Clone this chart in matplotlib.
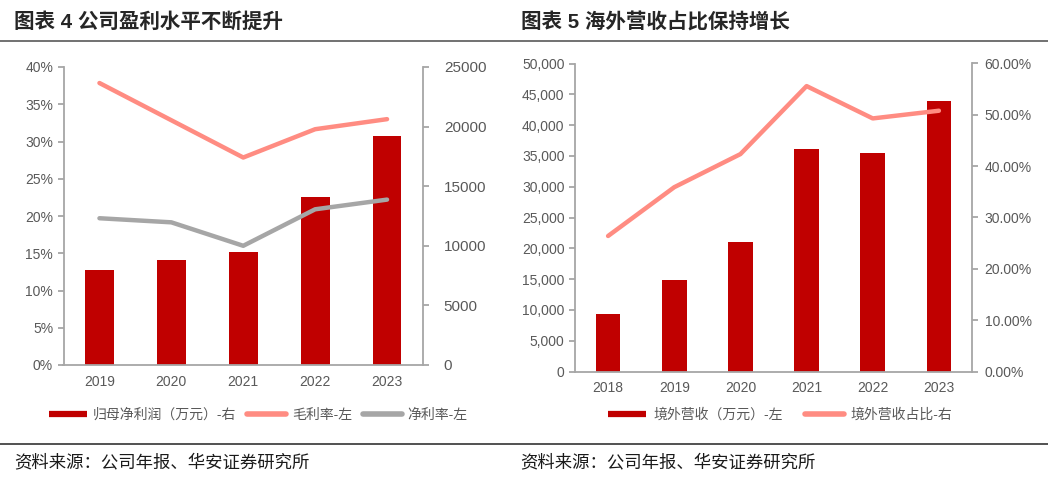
import matplotlib
matplotlib.use('Agg')
import matplotlib.pyplot as plt
from matplotlib.lines import Line2D
from matplotlib.ticker import FuncFormatter, MultipleLocator
import numpy as np

plt.rcParams['font.family'] = ['Liberation Sans', 'Noto Sans CJK SC', 'DejaVu Sans']

# --- chart 4 data ---
years_a = ['2019', '2020', '2021', '2022', '2023']
net_profit = [8000, 8850, 9500, 14080, 19250]        # 万元, right axis
gross_margin = [37.85, 32.85, 27.85, 31.65, 33.0]    # %, left axis
net_margin = [19.7, 19.15, 16.0, 20.9, 22.2]         # %, left axis

# --- chart 5 data ---
years_b = ['2018', '2019', '2020', '2021', '2022', '2023']
overseas_rev = [9300, 14850, 21030, 36100, 35400, 43900]   # 万元, left axis
overseas_share = [26.4, 35.9, 42.35, 55.6, 49.3, 50.8]     # %, right axis

RED = '#C00000'
PINK = '#FF8C82'
GREY = '#A6A6A6'
TXT = '#595959'
AXC = '#A6A6A6'

W, H = 1048, 483
fig = plt.figure(figsize=(W / 100, H / 100), dpi=100)


def box(x0, y0, x1, y1):
    return [x0 / W, 1 - y1 / H, (x1 - x0) / W, (y1 - y0) / H]


def style(ax, n, right=False):
    ax.spines['top'].set_visible(False)
    for s in ['left', 'right', 'bottom']:
        ax.spines[s].set_color(AXC)
        ax.spines[s].set_linewidth(1.3)
    if not right:
        ax.spines['right'].set_visible(False)
    ax.set_xlim(-0.5, n - 0.5)
    ax.set_xticks(np.arange(-0.5, n, 1.0))
    ax.set_xticklabels([])
    ax.tick_params(axis='x', which='major', length=4, color=AXC, width=1.3)
    ax.tick_params(axis='y', length=4, color=AXC, width=1.3, labelcolor=TXT, labelsize=10)


# ================= chart 4 =================
axL = fig.add_axes(box(63.5, 67, 423, 365))
axR = axL.twinx()
x = np.arange(len(years_a))
axR.bar(x, net_profit, width=0.4, color=RED, zorder=2)
axR.set_ylim(0, 25000)
axR.yaxis.set_major_locator(MultipleLocator(5000))
axL.plot(x, gross_margin, color=PINK, lw=3.2, solid_capstyle='round', zorder=3)
axL.plot(x, net_margin, color=GREY, lw=3.2, solid_capstyle='round', zorder=3)
axL.set_ylim(0, 40)
axL.yaxis.set_major_locator(MultipleLocator(5))
axL.yaxis.set_major_formatter(FuncFormatter(lambda v, p: f'{v:.0f}%'))
axL.set_zorder(axR.get_zorder() + 1)
axL.patch.set_visible(False)
style(axL, len(years_a))
style(axR, len(years_a), right=True)
axR.spines['left'].set_visible(False)
axR.spines['bottom'].set_visible(False)
axR.tick_params(axis='y', labelsize=11, pad=11)
axL.set_xticks(x, minor=True)
axL.set_xticklabels(years_a, minor=True)
axL.tick_params(axis='x', which='minor', length=0, labelcolor=TXT, labelsize=10, pad=7)
axR.set_xticks([])

# ================= chart 5 =================
axB = fig.add_axes(box(575, 63.5, 972, 371.5))
xb = np.arange(len(years_b))
axB.bar(xb, overseas_rev, width=0.375, color=RED, zorder=2)
axB.set_ylim(0, 50000)
axB.yaxis.set_major_locator(MultipleLocator(5000))
axB.yaxis.set_major_formatter(FuncFormatter(lambda v, p: f'{v:,.0f}'))
axS = axB.twinx()
axS.plot(xb, overseas_share, color=PINK, lw=3.2, solid_capstyle='round', zorder=3)
axS.set_ylim(0, 60)
axS.yaxis.set_major_locator(MultipleLocator(10))
axS.yaxis.set_major_formatter(FuncFormatter(lambda v, p: f'{v:.2f}%'))
style(axB, len(years_b))
style(axS, len(years_b), right=True)
axS.spines['left'].set_visible(False)
axS.spines['bottom'].set_visible(False)
axS.tick_params(axis='y', pad=5)
axB.set_xticks(xb, minor=True)
axB.set_xticklabels(years_b, minor=True)
axB.tick_params(axis='x', which='minor', length=0, labelcolor=TXT, labelsize=10, pad=7)
axS.set_xticks([])

# ================= legends =================
h4 = [Line2D([], [], color=RED, lw=4.5, solid_capstyle='butt'),
      Line2D([], [], color=PINK, lw=4, solid_capstyle='round'),
      Line2D([], [], color=GREY, lw=4, solid_capstyle='round')]
l4 = ['归母净利润（万元）-右', '毛利率-左', '净利率-左']
fig.legend(h4, l4, loc='center left', bbox_to_anchor=(36 / W, 1 - 415 / H), ncol=3,
           frameon=False, fontsize=10, handlelength=2.8, handletextpad=0.4,
           columnspacing=0.8, labelcolor=TXT)

h5 = [Line2D([], [], color=RED, lw=4.5, solid_capstyle='butt'),
      Line2D([], [], color=PINK, lw=4, solid_capstyle='round')]
l5 = ['境外营收（万元）-左', '境外营收占比-右']
fig.legend(h5, l5, loc='center left', bbox_to_anchor=(595 / W, 1 - 415 / H), ncol=2,
           frameon=False, fontsize=10, handlelength=2.8, handletextpad=0.5,
           columnspacing=1.6, labelcolor=TXT)

# ================= titles, rules, source =================
fig.text(14 / W, 1 - 22 / H, '图表 4 公司盈利水平不断提升', fontsize=14.8, fontweight='bold',
         va='center', ha='left', color='#262626')
fig.text(521 / W, 1 - 22 / H, '图表 5 海外营收占比保持增长', fontsize=14.8, fontweight='bold',
         va='center', ha='left', color='#262626')
fig.add_artist(Line2D([0, 1], [1 - 40.5 / H, 1 - 40.5 / H], color='#595959', lw=1.2))
fig.add_artist(Line2D([0, 1], [1 - 444 / H, 1 - 444 / H], color='#333333', lw=1.2))
fig.text(14 / W, 1 - 462 / H, '资料来源：公司年报、华安证券研究所', fontsize=12.5,
         va='center', ha='left', color='#1a1a1a')
fig.text(520 / W, 1 - 462 / H, '资料来源：公司年报、华安证券研究所', fontsize=12.5,
         va='center', ha='left', color='#1a1a1a')

fig.savefig('out.png', dpi=100)
